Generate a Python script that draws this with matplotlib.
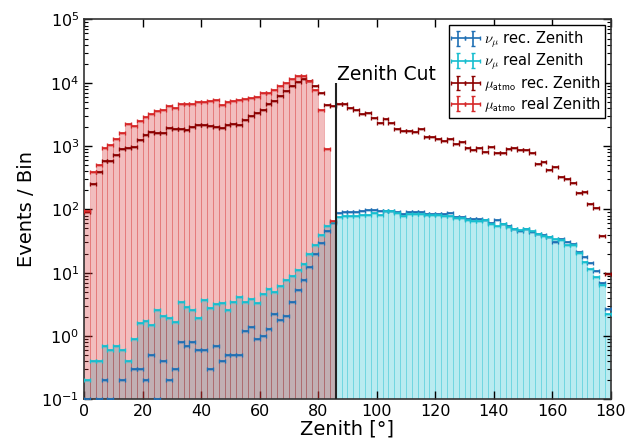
#!/usr/bin/env python3
"""Zenith distribution of neutrino and atmospheric muon events with zenith cut."""

import matplotlib

matplotlib.use("Agg")
import matplotlib.pyplot as plt
import numpy as np

nan = np.nan

# 2 degree bins from 0 to 180
bin_edges = list(range(0, 182, 2))
zenith_cut = 86

nu_rec = [
    0.1, nan, 0.1, 0.2, 0.1, nan, 0.2, nan, 0.3, 0.3,
    0.2, 0.5, 0.1, 0.4, 0.2, 0.3, 0.8, 0.7, 0.8, 0.6,
    0.6, 0.3, 0.7, 0.4, 0.5, 0.5, 0.5, 1.2, 1.4, 0.9,
    1.0, 1.3, 2.2, 1.8, 2.1, 3.5, 5.3, 7.7, 12.2, 19.9,
    29.4, 46, 60, 87.5, 90.5, 90.5, 90.5, 93.8, 97.5, 97.5,
    93, 95, 95, 90.5, 86, 91, 89.5, 89.5, 85, 84,
    85, 85, 87, 76, 77, 70, 71, 70, 68, 61,
    67, 59, 54.5, 49.5, 46, 49, 43.6, 40.7, 39.3, 36,
    31, 34, 31, 28, 21.4, 17.8, 14.2, 10.5, 6.8, 2.7,
]
nu_real = [
    0.2, 0.4, 0.4, 0.7, 0.6, 0.7, 0.6, 0.4, 0.9, 1.6,
    1.7, 1.5, 2.6, 2.1, 1.9, 1.67, 3.5, 2.9, 2.6, 1.9,
    3.7, 2.8, 3.2, 3.3, 2.6, 3.4, 4.1, 3.4, 3.8, 3.3,
    4.6, 5.6, 4.9, 6.2, 7.6, 8.8, 10.9, 13.7, 19.7, 27,
    39.7, 54, 64, 76, 79, 79, 79, 81, 83, 87.5,
    81, 94, 94, 87, 78, 86, 86, 86, 81, 81,
    81, 78, 80, 74, 72, 69, 64.6, 65, 68, 58,
    54, 59, 52, 49.5, 48, 49, 44.8, 41, 38.5, 36,
    33.5, 33, 27.5, 27.5, 20.2, 15, 11.5, 8.5, 6.4, 2.2,
]
mu_rec = [
    90, 248, 388, 586, 586, 730, 885, 918, 963, 1245,
    1490, 1683, 1585, 1585, 1905, 1857, 1857, 1810, 2000, 2125,
    2120, 2050, 2030, 1945, 2150, 2250, 2125, 2545, 2945, 3360,
    3660, 4560, 5200, 6170, 7400, 8770, 10140, 11440, 10800, 8770,
    6870, 4450, 4350, 4560, 4660, 4030, 3660, 3240, 3360, 2735,
    2335, 2640, 2280, 1877, 1745, 1745, 1665, 1877, 1387, 1387,
    1275, 1213, 1310, 1077, 1160, 918, 875, 940, 803, 963,
    767, 775, 897, 932, 855, 875, 767, 525, 552, 422,
    466, 320, 304, 257, 181, 190, 123, 104, 38, 9.4,
]
mu_real = [
    95, 388, 507, 940, 1050, 1275, 1585, 2230, 2095, 2455,
    2905, 3240, 3570, 3705, 4240, 3980, 4560, 4660, 4660, 5010,
    4900, 5080, 5270, 4500, 4900, 5200, 5270, 5600, 5800, 5950,
    6800, 6950, 7750, 8770, 10000, 11300, 12900, 12700, 10500, 7670,
    3770, 900, 66,
] + [nan] * 47

edges = np.array(bin_edges, dtype=float)
centers = 0.5 * (edges[:-1] + edges[1:])
widths = np.diff(edges)

c_nu_rec = "#1f6fb4"
c_nu_real = "#17becf"
c_mu_rec = "#8b0000"
c_mu_real = "#d62728"

plt.rcParams["mathtext.fontset"] = "cm"

fig = plt.figure(figsize=(6.39, 4.43), dpi=100)
ax = fig.add_axes([0.1315, 0.0986, 0.8245, 0.8575])
ax.set_yscale("log")

ax.bar(centers, nu_real, width=widths, color=c_nu_real, alpha=0.3,
       edgecolor=c_nu_real, linewidth=0.6, zorder=1)
ax.bar(centers, mu_real, width=widths, color=c_mu_real, alpha=0.3,
       edgecolor=c_mu_real, linewidth=0.6, zorder=2)

series = [
    (nu_rec, c_nu_rec, r"$\nu_\mu$ rec. Zenith"),
    (nu_real, c_nu_real, r"$\nu_\mu$ real Zenith"),
    (mu_rec, c_mu_rec, r"$\mu_{\mathsf{atmo}}$ rec. Zenith"),
    (mu_real, c_mu_real, r"$\mu_{\mathsf{atmo}}$ real Zenith"),
]
for values, color, label in series:
    ax.errorbar(centers, values, xerr=widths / 2, yerr=np.zeros(len(centers)),
                fmt="none", ecolor=color, elinewidth=1.2, capsize=1.5,
                capthick=1.0, label=label, zorder=4)

ax.vlines(zenith_cut, 0.1, 1e4, color="#222222", linewidth=1.5, zorder=5)
ax.text(zenith_cut + 0.3, 1.12e4, "Zenith Cut", fontsize=13.5, ha="left",
        va="baseline", zorder=6)

ax.set_xlim(0, 180)
ax.set_ylim(0.1, 1e5)
ax.set_xticks(range(0, 181, 20))
ax.set_xlabel("Zenith [°]", fontsize=14, labelpad=0)
ax.set_ylabel("Events / Bin", fontsize=14, labelpad=4)
ax.tick_params(axis="both", which="both", direction="in", top=True, right=True,
               labelsize=11.5)
ax.tick_params(axis="both", which="major", length=6, width=1)
ax.tick_params(axis="both", which="minor", length=3, width=0.8)
for spine in ax.spines.values():
    spine.set_color("#333333")
    spine.set_linewidth(1.2)

leg = ax.legend(loc="upper right", numpoints=2, fontsize=10.5, fancybox=False,
                framealpha=1, edgecolor="black", borderaxespad=0.4,
                handlelength=1.6, handletextpad=0.45, labelspacing=0.12,
                borderpad=0.3)
leg.get_frame().set_linewidth(1.0)

fig.savefig("out.png", dpi=100)
